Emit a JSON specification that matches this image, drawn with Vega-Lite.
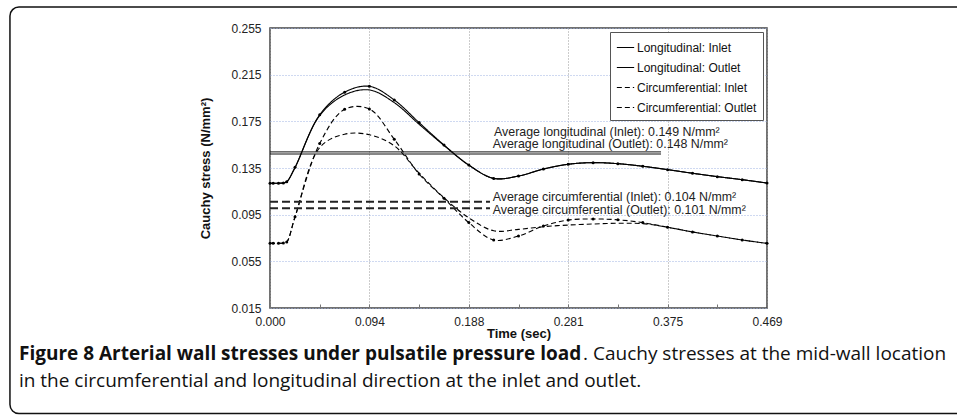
{
  "$schema": "https://vega.github.io/schema/vega-lite/v6.json",
  "autosize": {"type": "none"},
  "width": 497,
  "height": 280,
  "padding": {"left": 270, "top": 28, "right": 190, "bottom": 108},
  "background": "white",
  "config": {
    "view": {"stroke": "#444", "strokeWidth": 1.5},
    "font": "Liberation Sans"
  },
  "datasets": {
    "curves": [
      {"series": "Longitudinal: Inlet", "t": 0, "v": 0.1219},
      {"series": "Longitudinal: Inlet", "t": 0.003, "v": 0.1219},
      {"series": "Longitudinal: Inlet", "t": 0.008, "v": 0.122},
      {"series": "Longitudinal: Inlet", "t": 0.0126, "v": 0.1222},
      {"series": "Longitudinal: Inlet", "t": 0.0158, "v": 0.1232},
      {"series": "Longitudinal: Inlet", "t": 0.0236, "v": 0.1356},
      {"series": "Longitudinal: Inlet", "t": 0.0469, "v": 0.1806},
      {"series": "Longitudinal: Inlet", "t": 0.0704, "v": 0.2},
      {"series": "Longitudinal: Inlet", "t": 0.0938, "v": 0.205},
      {"series": "Longitudinal: Inlet", "t": 0.1173, "v": 0.1933},
      {"series": "Longitudinal: Inlet", "t": 0.1407, "v": 0.1739},
      {"series": "Longitudinal: Inlet", "t": 0.1642, "v": 0.1547},
      {"series": "Longitudinal: Inlet", "t": 0.1876, "v": 0.1376},
      {"series": "Longitudinal: Inlet", "t": 0.2111, "v": 0.1261},
      {"series": "Longitudinal: Inlet", "t": 0.2345, "v": 0.1281},
      {"series": "Longitudinal: Inlet", "t": 0.258, "v": 0.1341},
      {"series": "Longitudinal: Inlet", "t": 0.2814, "v": 0.1382},
      {"series": "Longitudinal: Inlet", "t": 0.3049, "v": 0.1396},
      {"series": "Longitudinal: Inlet", "t": 0.3283, "v": 0.1387},
      {"series": "Longitudinal: Inlet", "t": 0.3518, "v": 0.1365},
      {"series": "Longitudinal: Inlet", "t": 0.3752, "v": 0.1336},
      {"series": "Longitudinal: Inlet", "t": 0.3987, "v": 0.1305},
      {"series": "Longitudinal: Inlet", "t": 0.4221, "v": 0.1276},
      {"series": "Longitudinal: Inlet", "t": 0.4456, "v": 0.125},
      {"series": "Longitudinal: Inlet", "t": 0.469, "v": 0.1221},

      {"series": "Longitudinal: Outlet", "t": 0, "v": 0.1219},
      {"series": "Longitudinal: Outlet", "t": 0.0126, "v": 0.1222},
      {"series": "Longitudinal: Outlet", "t": 0.0158, "v": 0.1232},
      {"series": "Longitudinal: Outlet", "t": 0.0236, "v": 0.1352},
      {"series": "Longitudinal: Outlet", "t": 0.0469, "v": 0.18},
      {"series": "Longitudinal: Outlet", "t": 0.0704, "v": 0.1976},
      {"series": "Longitudinal: Outlet", "t": 0.0938, "v": 0.2019},
      {"series": "Longitudinal: Outlet", "t": 0.1173, "v": 0.191},
      {"series": "Longitudinal: Outlet", "t": 0.1407, "v": 0.1725},
      {"series": "Longitudinal: Outlet", "t": 0.1642, "v": 0.1543},
      {"series": "Longitudinal: Outlet", "t": 0.1876, "v": 0.1374},
      {"series": "Longitudinal: Outlet", "t": 0.2111, "v": 0.1261},
      {"series": "Longitudinal: Outlet", "t": 0.2345, "v": 0.1281},
      {"series": "Longitudinal: Outlet", "t": 0.258, "v": 0.1341},
      {"series": "Longitudinal: Outlet", "t": 0.2814, "v": 0.1382},
      {"series": "Longitudinal: Outlet", "t": 0.3049, "v": 0.1396},
      {"series": "Longitudinal: Outlet", "t": 0.3283, "v": 0.1387},
      {"series": "Longitudinal: Outlet", "t": 0.3518, "v": 0.1365},
      {"series": "Longitudinal: Outlet", "t": 0.3752, "v": 0.1336},
      {"series": "Longitudinal: Outlet", "t": 0.3987, "v": 0.1305},
      {"series": "Longitudinal: Outlet", "t": 0.4221, "v": 0.1276},
      {"series": "Longitudinal: Outlet", "t": 0.4456, "v": 0.125},
      {"series": "Longitudinal: Outlet", "t": 0.469, "v": 0.1221},

      {"series": "Circumferential: Inlet", "t": 0, "v": 0.0704},
      {"series": "Circumferential: Inlet", "t": 0.003, "v": 0.0704},
      {"series": "Circumferential: Inlet", "t": 0.008, "v": 0.0705},
      {"series": "Circumferential: Inlet", "t": 0.0126, "v": 0.0708},
      {"series": "Circumferential: Inlet", "t": 0.0158, "v": 0.0716},
      {"series": "Circumferential: Inlet", "t": 0.0236, "v": 0.0933},
      {"series": "Circumferential: Inlet", "t": 0.0469, "v": 0.156},
      {"series": "Circumferential: Inlet", "t": 0.0704, "v": 0.1853},
      {"series": "Circumferential: Inlet", "t": 0.0938, "v": 0.1856},
      {"series": "Circumferential: Inlet", "t": 0.1173, "v": 0.1596},
      {"series": "Circumferential: Inlet", "t": 0.1407, "v": 0.1299},
      {"series": "Circumferential: Inlet", "t": 0.1642, "v": 0.109},
      {"series": "Circumferential: Inlet", "t": 0.1876, "v": 0.0882},
      {"series": "Circumferential: Inlet", "t": 0.2111, "v": 0.0733},
      {"series": "Circumferential: Inlet", "t": 0.2345, "v": 0.0767},
      {"series": "Circumferential: Inlet", "t": 0.258, "v": 0.0853},
      {"series": "Circumferential: Inlet", "t": 0.2814, "v": 0.0904},
      {"series": "Circumferential: Inlet", "t": 0.3049, "v": 0.0913},
      {"series": "Circumferential: Inlet", "t": 0.3283, "v": 0.0906},
      {"series": "Circumferential: Inlet", "t": 0.3518, "v": 0.0882},
      {"series": "Circumferential: Inlet", "t": 0.3752, "v": 0.0842},
      {"series": "Circumferential: Inlet", "t": 0.3987, "v": 0.0802},
      {"series": "Circumferential: Inlet", "t": 0.4221, "v": 0.0767},
      {"series": "Circumferential: Inlet", "t": 0.4456, "v": 0.0733},
      {"series": "Circumferential: Inlet", "t": 0.469, "v": 0.0704},

      {"series": "Circumferential: Outlet", "t": 0, "v": 0.0704},
      {"series": "Circumferential: Outlet", "t": 0.0126, "v": 0.0708},
      {"series": "Circumferential: Outlet", "t": 0.0158, "v": 0.0716},
      {"series": "Circumferential: Outlet", "t": 0.0236, "v": 0.0928},
      {"series": "Circumferential: Outlet", "t": 0.0469, "v": 0.1525},
      {"series": "Circumferential: Outlet", "t": 0.0704, "v": 0.164},
      {"series": "Circumferential: Outlet", "t": 0.0938, "v": 0.1635},
      {"series": "Circumferential: Outlet", "t": 0.1173, "v": 0.154},
      {"series": "Circumferential: Outlet", "t": 0.1407, "v": 0.1305},
      {"series": "Circumferential: Outlet", "t": 0.1642, "v": 0.1095},
      {"series": "Circumferential: Outlet", "t": 0.1876, "v": 0.0923},
      {"series": "Circumferential: Outlet", "t": 0.2111, "v": 0.0812},
      {"series": "Circumferential: Outlet", "t": 0.2345, "v": 0.0824},
      {"series": "Circumferential: Outlet", "t": 0.258, "v": 0.0847},
      {"series": "Circumferential: Outlet", "t": 0.2814, "v": 0.0861},
      {"series": "Circumferential: Outlet", "t": 0.3049, "v": 0.087},
      {"series": "Circumferential: Outlet", "t": 0.3283, "v": 0.0876},
      {"series": "Circumferential: Outlet", "t": 0.3518, "v": 0.0873},
      {"series": "Circumferential: Outlet", "t": 0.3752, "v": 0.0842},
      {"series": "Circumferential: Outlet", "t": 0.3987, "v": 0.0802},
      {"series": "Circumferential: Outlet", "t": 0.4221, "v": 0.0767},
      {"series": "Circumferential: Outlet", "t": 0.4456, "v": 0.0733},
      {"series": "Circumferential: Outlet", "t": 0.469, "v": 0.0704}
    ],
    "avgLong": [
      {"name": "Average longitudinal (Inlet)", "t": 0, "t2": 0.369, "v": 0.1488},
      {"name": "Average longitudinal (Outlet)", "t": 0, "t2": 0.369, "v": 0.147}
    ],
    "avgCirc": [
      {"name": "Average circumferential (Inlet)", "t": 0, "t2": 0.2076, "v": 0.1061},
      {"name": "Average circumferential (Outlet)", "t": 0, "t2": 0.2076, "v": 0.1006}
    ],
    "notes": [
      {"t": 0.2114, "v": 0.1659, "label": "Average longitudinal (Inlet): 0.149 N/mm²"},
      {"t": 0.2101, "v": 0.1556, "label": "Average longitudinal (Outlet): 0.148 N/mm²"},
      {"t": 0.2101, "v": 0.1104, "label": "Average circumferential (Inlet): 0.104 N/mm²"},
      {"t": 0.2101, "v": 0.099, "label": "Average circumferential (Outlet): 0.101 N/mm²"}
    ],
    "captionBold": [
      {"t": -0.2369, "v": -0.0244, "label": "Figure 8 Arterial wall stresses under pulsatile pressure load"}
    ],
    "captionRegular": [
      {"t": 0.2954, "v": -0.0244, "label": ". Cauchy stresses at the mid-wall location"},
      {"t": -0.2369, "v": -0.0476, "label": "in the circumferential and longitudinal direction at the inlet and outlet."}
    ],
    "frame": [
      {"t": -0.2454, "t2": 0.7, "v": 0.273, "v2": -0.0755}
    ]
  },
  "layer": [
    {
      "data": {"name": "curves"},
      "mark": {"type": "line", "interpolate": "catmull-rom", "color": "black", "strokeWidth": 1.1},
      "encoding": {
        "x": {
          "field": "t", "type": "quantitative",
          "scale": {"domain": [0, 0.469], "nice": false, "zero": false},
          "axis": {
            "values": [0, 0.0469, 0.0938, 0.1407, 0.1876, 0.2345, 0.2814, 0.3283, 0.3752, 0.4221, 0.469],
            "labelExpr": "round(datum.value / 0.0469) % 2 == 0 ? format(datum.value, '.3f') : ''",
            "labelOverlap": false,
            "labelFlush": false,
            "labelFont": "Liberation Sans",
            "labelFontSize": 12,
            "labelColor": "#222",
            "labelPadding": 12,
            "tickSize": -4,
            "tickColor": "#777",
            "domain": false,
            "grid": true,
            "gridColor": "#999",
            "gridDash": [1, 2],
            "gridOpacity": {"condition": {"test": "round(datum.value / 0.0469) % 2 == 0", "value": 1}, "value": 0},
            "title": "Time (sec)",
            "titleFont": "Liberation Sans",
            "titleFontSize": 13,
            "titleFontWeight": "bold",
            "titleColor": "#111",
            "titlePadding": 0
          }
        },
        "y": {
          "field": "v", "type": "quantitative",
          "scale": {"domain": [0.015, 0.255], "nice": false, "zero": false},
          "axis": {
            "values": [0.015, 0.055, 0.095, 0.135, 0.175, 0.215, 0.255],
            "format": ".3f",
            "labelFont": "Liberation Sans",
            "labelFontSize": 12,
            "labelColor": "#222",
            "labelPadding": 9,
            "tickSize": 0,
            "domain": false,
            "grid": true,
            "gridColor": "#9fb3e3",
            "gridDash": [1, 2],
            "title": "Cauchy stress (N/mm²)",
            "titleFont": "Liberation Sans",
            "titleFontSize": 13,
            "titleFontWeight": "bold",
            "titleColor": "#111",
            "titlePadding": 18
          }
        },
        "detail": {"field": "series"},
        "strokeDash": {
          "field": "series", "type": "nominal",
          "scale": {
            "domain": ["Longitudinal: Inlet", "Longitudinal: Outlet", "Circumferential: Inlet", "Circumferential: Outlet"],
            "range": [[1, 0], [1, 0], [5, 3], [5, 3]]
          },
          "legend": {
            "title": null,
            "orient": "top-right",
            "offset": 4,
            "padding": 6,
            "strokeColor": "#555",
            "fillColor": "white",
            "symbolType": "stroke",
            "symbolStrokeColor": "black",
            "symbolStrokeWidth": 1.2,
            "symbolSize": 300,
            "labelFont": "Liberation Sans",
            "labelFontSize": 12,
            "labelColor": "#111",
            "labelOffset": 2,
            "rowPadding": 4
          }
        }
      }
    },
    {
      "data": {"name": "frame"},
      "mark": {"type": "rect", "fill": null, "stroke": "#111", "strokeWidth": 1.5, "cornerRadius": 9, "clip": false},
      "encoding": {
        "x": {"field": "t", "type": "quantitative"},
        "x2": {"field": "t2"},
        "y": {"field": "v", "type": "quantitative"},
        "y2": {"field": "v2"}
      }
    },
    {
      "data": {"name": "curves"},
      "transform": [{"filter": "indexof(datum.series, 'Inlet') >= 0"}],
      "mark": {"type": "point", "filled": true, "color": "black", "size": 9, "opacity": 1},
      "encoding": {
        "x": {"field": "t", "type": "quantitative"},
        "y": {"field": "v", "type": "quantitative"}
      }
    },
    {
      "data": {"name": "avgLong"},
      "mark": {"type": "rule", "color": "#111", "strokeWidth": 1},
      "encoding": {
        "x": {"field": "t", "type": "quantitative"},
        "x2": {"field": "t2"},
        "y": {"field": "v", "type": "quantitative"}
      }
    },
    {
      "data": {"name": "avgCirc"},
      "mark": {"type": "rule", "color": "#222", "strokeWidth": 2, "strokeDash": [8, 4]},
      "encoding": {
        "x": {"field": "t", "type": "quantitative"},
        "x2": {"field": "t2"},
        "y": {"field": "v", "type": "quantitative"}
      }
    },
    {
      "data": {"name": "notes"},
      "mark": {"type": "text", "align": "left", "baseline": "middle", "font": "Liberation Sans", "fontSize": 12.4, "color": "#222"},
      "encoding": {
        "x": {"field": "t", "type": "quantitative"},
        "y": {"field": "v", "type": "quantitative"},
        "text": {"field": "label"}
      }
    },
    {
      "data": {"name": "captionBold"},
      "mark": {"type": "text", "align": "left", "baseline": "middle", "font": "Open Sans", "fontSize": 19, "fontWeight": "bold", "color": "#111", "clip": false},
      "encoding": {
        "x": {"field": "t", "type": "quantitative"},
        "y": {"field": "v", "type": "quantitative"},
        "text": {"field": "label"}
      }
    },
    {
      "data": {"name": "captionRegular"},
      "mark": {"type": "text", "align": "left", "baseline": "middle", "font": "Open Sans", "fontSize": 19, "color": "#111", "clip": false},
      "encoding": {
        "x": {"field": "t", "type": "quantitative"},
        "y": {"field": "v", "type": "quantitative"},
        "text": {"field": "label"}
      }
    }
  ]
}
